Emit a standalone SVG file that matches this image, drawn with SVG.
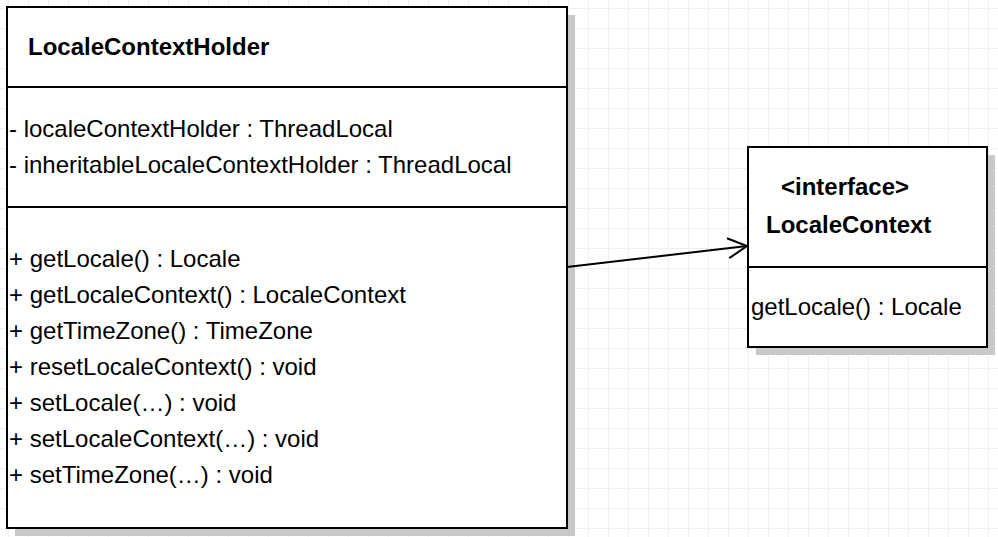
<svg xmlns="http://www.w3.org/2000/svg" width="998" height="537" viewBox="0 0 998 537">
<style>
.box{fill:#fff;stroke:#000;stroke-width:2}
.shadow{fill:#c8c8c8}
.sep{stroke:#000;stroke-width:2}
.t{font-family:"Liberation Sans",Arial,sans-serif;font-size:24px;fill:#000}
.b{font-weight:bold}
.conn{stroke:#000;stroke-width:2;fill:none}
</style>
<defs>
<pattern id="grid" x="8" y="8" width="20" height="20" patternUnits="userSpaceOnUse">
<path d="M0 0H20M0 0V20" stroke="#efefef" stroke-width="2" fill="none"/>
</pattern>
<marker id="open" markerWidth="24" markerHeight="24" refX="20" refY="11" orient="auto" markerUnits="userSpaceOnUse">
<path d="M1 1L20 11L1 21" fill="none" stroke="#000" stroke-width="2"/>
</marker>
</defs>
<rect width="998" height="537" fill="#fff"/>
<rect width="998" height="537" fill="url(#grid)"/>
<g id="LocaleContextHolder">
<rect class="shadow" x="15" y="15" width="560" height="521"/>
<rect class="box" x="7" y="7" width="560" height="521"/>
<line class="sep" x1="7" y1="87" x2="567" y2="87"/>
<line class="sep" x1="7" y1="207" x2="567" y2="207"/>
<text class="t b" x="28" y="55">LocaleContextHolder</text>
<text class="t" x="9" y="137">- localeContextHolder : ThreadLocal</text>
<text class="t" x="9" y="173">- inheritableLocaleContextHolder : ThreadLocal</text>
<text class="t" x="9" y="267">+ getLocale() : Locale</text>
<text class="t" x="9" y="303">+ getLocaleContext() : LocaleContext</text>
<text class="t" x="9" y="339">+ getTimeZone() : TimeZone</text>
<text class="t" x="9" y="375">+ resetLocaleContext() : void</text>
<text class="t" x="9" y="411">+ setLocale(…) : void</text>
<text class="t" x="9" y="447">+ setLocaleContext(…) : void</text>
<text class="t" x="9" y="483">+ setTimeZone(…) : void</text>
</g>
<g id="LocaleContext">
<rect class="shadow" x="756" y="155" width="239" height="200"/>
<rect class="box" x="748" y="147" width="239" height="200"/>
<line class="sep" x1="748" y1="267" x2="987" y2="267"/>
<text class="t b" x="781" y="195">&lt;interface&gt;</text>
<text class="t b" x="766" y="233">LocaleContext</text>
<text class="t" x="751" y="315">getLocale() : Locale</text>
</g>
<g id="connectors">
<line class="conn" x1="567" y1="267" x2="747" y2="246" marker-end="url(#open)"/>
</g>
</svg>
